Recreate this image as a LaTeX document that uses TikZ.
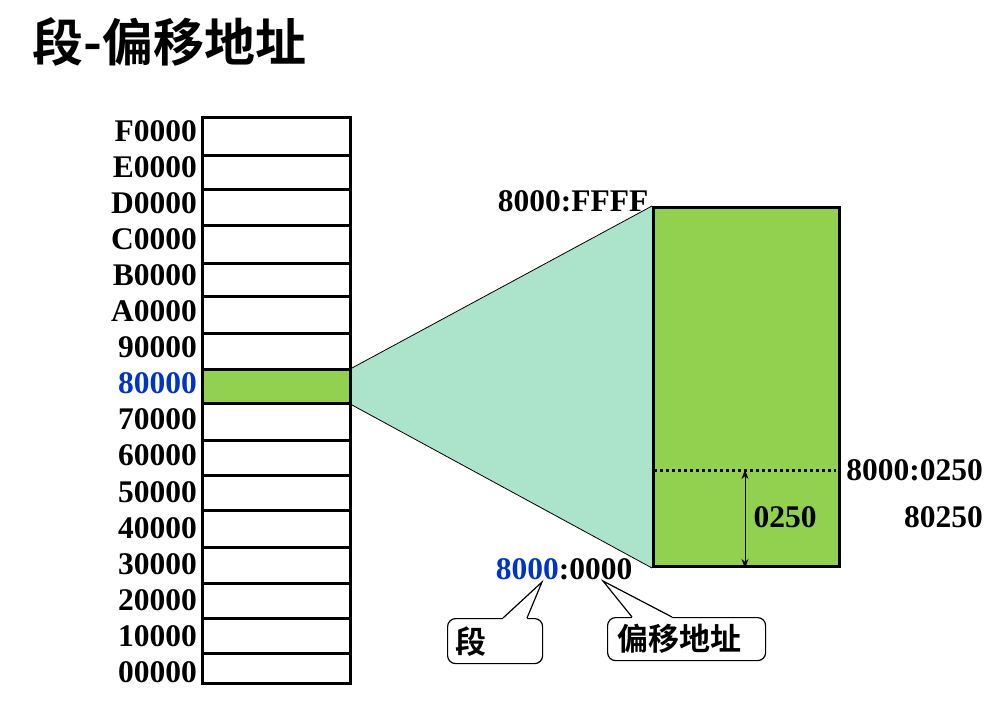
\documentclass[tikz,border=0pt]{standalone}
\usepackage{fontspec}
\setmainfont{Liberation Serif}
\newfontfamily\cjk{Noto Sans CJK SC}[BoldFont={Noto Sans CJK SC Bold}]
\usetikzlibrary{arrows.meta,backgrounds}
\definecolor{cellgreen}{RGB}{146,208,80}
\definecolor{fan}{RGB}{172,227,203}
\definecolor{segblue}{RGB}{0,51,204}
\begin{document}
\begin{tikzpicture}[x=1pt,y=-1pt,
  cell/.style={draw, line width=3pt, minimum width=148pt, inner sep=0pt, anchor=north west},
  addr/.style={font=\fontsize{31.5}{31.5}\selectfont\bfseries, inner sep=1pt},
  callbox/.style={draw, line width=1.2pt, fill=white, rounded corners=8pt, anchor=north west,
    font=\cjk\bfseries\fontsize{31}{31}\selectfont, align=left, inner ysep=0pt},
  pointer/.style={line width=1.2pt, line join=miter}]
\useasboundingbox (0,0) rectangle (988,701);
% title
\node[anchor=west, inner sep=0pt, font=\cjk\bfseries\fontsize{51}{51}\selectfont] (title) at (32,42) {段-偏移地址};
% memory column
\foreach \t/\f/\c/\y/\h [count=\i from 0] in {F0000/white/black/116/38,E0000/white/black/154/34,D0000/white/black/188/36,C0000/white/black/224/38,B0000/white/black/262/33,A0000/white/black/295/37,90000/white/black/332/36,80000/cellgreen/segblue/368/34,70000/white/black/402/37,60000/white/black/439/35,50000/white/black/474/35,40000/white/black/509/37,30000/white/black/546/36,20000/white/black/582/35,10000/white/black/617/35,00000/white/black/652/30}{
  \node[cell, fill=\f, minimum height=\h pt] (c\i) at (201,\y) {};
  \node[addr, anchor=east, text=\c] (l\i) at (198,{131+\i*36.07}) {\t};
}
% segment
\node[draw, line width=3pt, fill=cellgreen, minimum width=186pt, minimum height=359pt, inner sep=0pt, anchor=north west] (seg) at (652,206) {};
\begin{scope}[on background layer]
  \fill[fan] (c7.north east) -- (seg.north west) -- (seg.south west) -- (c7.south east) -- cycle;
  \draw[line width=0.8pt] (c7.north east) -- (seg.north west);
  \draw[line width=0.8pt] (c7.south east) -- (seg.south west);
\end{scope}
% offset marker
\coordinate (dl) at (654,470);
\coordinate (dr) at (836,470);
\draw[line width=3pt, dash pattern=on 3pt off 3pt] (dl) -- (dr);
\coordinate (a1) at (745,470);
\draw[line width=1pt, {Stealth[length=9pt,width=7pt]}-{Stealth[length=9pt,width=7pt]}] (a1) -- (a1 |- seg.south);
% labels
\node[addr] (top) at (573,201) {8000:FFFF};
\node[addr] (bot) at (564,569) {\textcolor{segblue}{8000}:0000};
\node[addr] (off) at (785,517) {0250};
\node[addr, anchor=east] (lg) at (984,470) {8000:0250};
\node[addr, anchor=east] (ph) at (984,517) {80250};
% callouts
\node[callbox, minimum height=45pt, text width=80pt, inner xsep=7.5pt] (cb1) at (447,618) {段};
\node[callbox, minimum height=43pt, text width=138pt, inner xsep=10pt] (cb2) at (607,617) {偏移地址};
\coordinate (t1) at (542,582);
\coordinate (b1a) at (503,618);
\coordinate (b1b) at (527,618);
\fill[white] (b1a) -- (t1) -- (b1b) -- ([yshift=-2pt]b1b) -- ([yshift=-2pt]b1a) -- cycle;
\draw[pointer] (b1a) -- (t1) -- (b1b);
\coordinate (t2) at (603,581);
\coordinate (b2a) at (632,617);
\coordinate (b2b) at (672,617);
\fill[white] (b2a) -- (t2) -- (b2b) -- ([yshift=-2pt]b2b) -- ([yshift=-2pt]b2a) -- cycle;
\draw[pointer] (b2a) -- (t2) -- (b2b);
\end{tikzpicture}
\end{document}
